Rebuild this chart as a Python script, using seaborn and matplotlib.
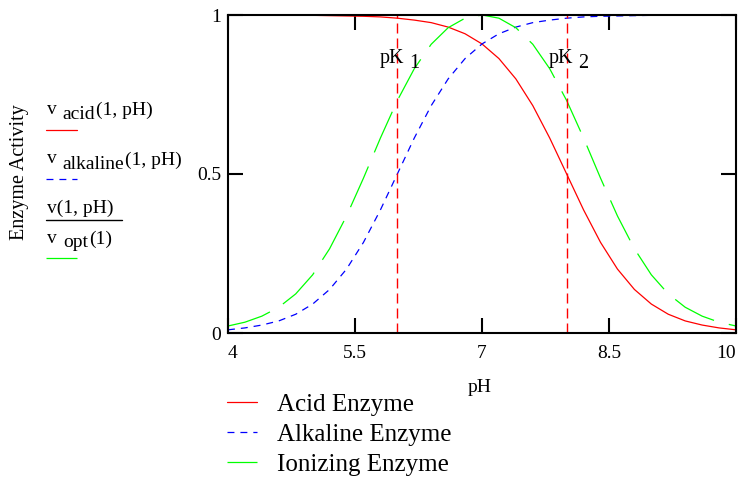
import numpy as np
import pandas as pd
import seaborn as sns
import matplotlib.pyplot as plt
from matplotlib.lines import Line2D

# values (pH step 0.2)
ph = [4.0, 4.2, 4.4, 4.6, 4.8, 5.0, 5.2, 5.4, 5.6, 5.8, 6.0, 6.2, 6.4, 6.6, 6.8, 7.0,
      7.2, 7.4, 7.6, 7.8, 8.0, 8.2, 8.4, 8.6, 8.8, 9.0, 9.2, 9.4, 9.6, 9.8, 10.0]
acid = [1.000, 1.000, 1.000, 1.000, 0.999, 0.999, 0.998, 0.997, 0.996, 0.994, 0.990,
        0.984, 0.976, 0.962, 0.941, 0.909, 0.863, 0.799, 0.715, 0.613, 0.500, 0.387,
        0.285, 0.201, 0.137, 0.091, 0.059, 0.038, 0.025, 0.016, 0.010]
alkaline = [0.010, 0.016, 0.025, 0.038, 0.059, 0.091, 0.137, 0.201, 0.285, 0.387, 0.500,
            0.613, 0.715, 0.799, 0.863, 0.909, 0.941, 0.962, 0.976, 0.984, 0.990, 0.994,
            0.996, 0.997, 0.998, 0.999, 0.999, 1.000, 1.000, 1.000, 1.000]
ionizing = [0.022, 0.034, 0.053, 0.081, 0.123, 0.183, 0.265, 0.368, 0.487, 0.613, 0.731,
            0.831, 0.908, 0.960, 0.990, 1.000, 0.990, 0.960, 0.908, 0.831, 0.731, 0.613,
            0.487, 0.368, 0.265, 0.183, 0.123, 0.081, 0.053, 0.034, 0.022]
pk_values = [6, 8]
pk_subs = ['1', '2']
x_ticks = [4, 5.5, 7, 8.5, 10]
x_labels = ['4', '5.5', '7', '8.5', '10']
y_ticks = [0, 0.5, 1]
y_labels = ['0', '0.5', '1']
series_names = ['Acid Enzyme', 'Alkaline Enzyme', 'Ionizing Enzyme']

df = pd.DataFrame({'pH': ph, 'acid': acid, 'alkaline': alkaline, 'ionizing': ionizing})

sns.set_theme(style='white')
plt.rcParams['font.family'] = ['Liberation Serif', 'DejaVu Serif']
plt.rcParams['lines.scale_dashes'] = False
plt.rcParams['text.color'] = 'black'


def px(x, y):
    # pixel position -> figure fraction
    return x / 740, 1 - y / 484


fig = plt.figure(figsize=(7.4, 4.84), dpi=100)
ax = fig.add_axes([228 / 740, 1 - 333 / 484, (736 - 228) / 740, (333 - 15) / 484])

acid_style = dict(color='#ff0000', lw=0.9, linestyle='-')
alk_style = dict(color='#0000ff', lw=0.9, linestyle=(0, (5, 4.3)))
ion_style = dict(color='#00ff00', lw=0.9, linestyle=(0, (32, 11)))

sns.lineplot(data=df, x='pH', y='acid', ax=ax, label=series_names[0], **acid_style)
sns.lineplot(data=df, x='pH', y='alkaline', ax=ax, label=series_names[1], **alk_style)
sns.lineplot(data=df, x='pH', y='ionizing', ax=ax, label=series_names[2], **ion_style)

for pk, sub in zip(pk_values, pk_subs):
    ax.axvline(pk, color='#ff0000', lw=1.0, linestyle=(0, (7.2, 3.6)))
    t = ax.text(pk - 0.21, 0.849, 'pK', fontsize=14.5, va='baseline', ha='left',
                transform=ax.get_xaxis_transform())
    ax.annotate(sub, xy=(1, 0), xycoords=t, xytext=(5, -5), textcoords='offset pixels',
                va='bottom', ha='left', fontsize=14.5)

ax.set_xlim(4, 10)
ax.set_ylim(0, 1)
ax.set_xticks(x_ticks)
ax.set_xticklabels(x_labels)
ax.set_yticks(y_ticks)
ax.set_yticklabels(y_labels)
ax.set_xlabel('')
ax.set_ylabel('')
ax.get_xticklabels()[0].set_ha('left')
ax.get_xticklabels()[-1].set_ha('right')
for s in ax.spines.values():
    s.set_visible(True)
    s.set_color('black')
    s.set_linewidth(1.5)
ax.tick_params(direction='in', length=11, width=1.5, top=True, right=True,
               bottom=True, left=True, labelsize=14, colors='black')
ax.tick_params(axis='x', pad=9)
ax.tick_params(axis='y', pad=5)

# axis titles
fig.text(*px(480, 387), 'pH', ha='center', va='center', fontsize=14)
fig.text(*px(20, 172), 'Enzyme Activity', rotation=90, ha='center', va='center', fontsize=14.5)


def label_run(x, y, parts, size=14):
    # Mathcad style name: pieces chained one after another, shifted in pixels
    prev = fig.text(*px(x, y), parts[0][0], va='baseline', ha='left', fontsize=size)
    for txt, dx, dy in parts[1:]:
        prev = fig.add_artist(plt.Annotation(txt, xy=(1, 0), xycoords=prev, xytext=(dx, dy),
                                             textcoords='offset pixels', va='bottom',
                                             ha='left', fontsize=size))
    return prev


label_run(47, 114, [('v', 0, 0), ('acid', 6, -5), ('(1, pH)', 1, 4)])
label_run(47, 163, [('v', 0, 0), ('alkaline', 6, -6), ('(1, pH)', 1, 4)])
fig.text(*px(47, 213), 'v(1, pH)', va='baseline', ha='left', fontsize=14)
label_run(47, 243, [('v', 0, 0), ('opt', 6, -4), ('(1)', 1, 3)])
fig.add_artist(Line2D([46 / 740, 122 / 740], [1 - 220 / 484] * 2, color='black', lw=1,
                      transform=fig.transFigure))

for y, st in zip([130, 179, 258], [acid_style, alk_style, ion_style]):
    fig.add_artist(Line2D([46 / 740, 77 / 740], [1 - y / 484] * 2, transform=fig.transFigure, **st))

# bottom legend
handles, labels = ax.get_legend_handles_labels()
ax.get_legend().remove()
fig.legend(handles, labels, loc='upper left', bbox_to_anchor=px(227, 393), frameon=False,
           fontsize=18, handlelength=1.2, handletextpad=0.8, labelspacing=0.3,
           borderpad=0, borderaxespad=0)

fig.savefig('out.png', dpi=100)
